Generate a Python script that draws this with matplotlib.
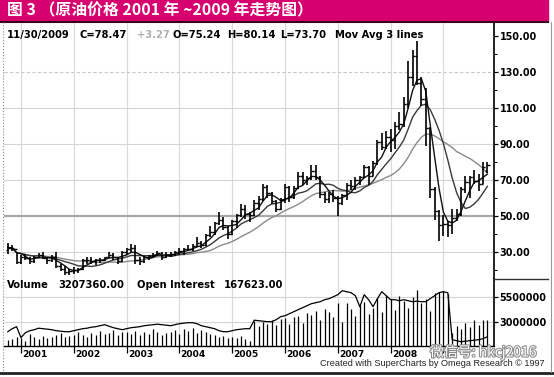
import matplotlib
matplotlib.use('Agg')
import matplotlib.pyplot as plt
import matplotlib.patheffects as pe
from matplotlib.patches import Rectangle
from matplotlib.lines import Line2D
from matplotlib.ticker import FuncFormatter
import numpy as np
import pandas as pd

# monthly Brent bars, Oct 2000 .. Nov 2009 (month index 0 = Oct 2000)
opens = [31.0, 32.5, 31.8,
         24.5, 27.5, 26.5, 25.0, 27.0, 28.5, 26.5, 25.5, 27.0, 22.5, 20.5, 19.0,
         19.5, 19.8, 20.5, 25.5, 25.5, 25.0, 25.5, 25.5, 27.0, 28.5, 27.0, 25.0,
         30.0, 31.5, 32.5, 25.5, 25.0, 27.0, 28.0, 28.5, 29.5, 27.0, 28.5, 29.0,
         30.0, 30.5, 31.5, 31.5, 33.5, 35.0, 34.0, 39.5, 41.0, 46.0, 48.0, 44.0,
         40.0, 47.0, 50.5, 54.0, 51.0, 50.5, 57.0, 59.5, 66.0, 63.0, 58.5, 54.0,
         59.0, 66.0, 60.5, 65.5, 72.0, 70.0, 71.0, 75.0, 71.5, 62.5, 59.5, 62.0,
         60.0, 57.0, 61.5, 67.5, 66.5, 70.0, 71.5, 77.0, 72.5, 79.5, 91.0, 88.5,
         94.0, 92.0, 100.0, 101.0, 112.0, 127.0, 139.0, 124.0, 115.0, 99.0, 65.0, 53.0,
         45.0, 45.5, 45.0, 49.0, 51.0, 65.0, 69.0, 71.5, 69.5, 68.0, 75.24]
highs = [34.8, 34.0, 30.0,
         28.5, 29.0, 27.5, 28.0, 29.5, 30.0, 27.0, 28.5, 30.0, 23.5, 22.0, 20.5,
         21.5, 21.0, 26.0, 27.5, 27.0, 26.0, 26.5, 27.5, 30.0, 29.5, 27.5, 30.5,
         32.5, 34.5, 34.0, 27.0, 28.0, 28.5, 29.5, 30.5, 30.0, 30.0, 30.0, 30.5,
         32.5, 32.0, 34.0, 34.5, 38.5, 36.0, 40.0, 44.5, 46.5, 52.0, 49.5, 44.5,
         48.0, 51.0, 56.5, 56.0, 52.0, 59.0, 61.0, 68.0, 67.5, 63.5, 59.0, 60.0,
         68.0, 66.5, 66.5, 74.5, 74.5, 72.0, 78.5, 78.5, 72.0, 63.5, 63.5, 64.5,
         61.0, 62.5, 68.5, 70.0, 71.5, 72.0, 78.5, 78.0, 80.5, 92.0, 96.0, 97.0,
         98.5, 102.0, 108.0, 116.0, 136.0, 142.0, 147.5, 127.0, 121.0, 99.5, 66.0, 53.5,
         50.5, 47.0, 54.0, 54.0, 66.0, 72.0, 72.0, 75.5, 73.5, 80.0, 80.14]
lows = [29.0, 30.5, 23.5,
        23.5, 25.5, 23.5, 24.0, 26.5, 26.0, 23.5, 24.5, 21.0, 19.5, 17.5, 17.0,
        17.8, 18.5, 20.0, 23.5, 23.5, 23.0, 24.0, 25.0, 26.5, 25.5, 23.5, 24.5,
        28.5, 30.0, 23.5, 23.0, 24.0, 25.5, 27.0, 28.0, 25.5, 26.5, 27.5, 28.0,
        28.5, 28.5, 30.5, 30.5, 33.0, 32.0, 33.5, 38.5, 39.5, 45.0, 42.0, 37.5,
        39.5, 43.5, 49.5, 48.5, 46.5, 50.0, 53.5, 58.5, 60.0, 56.5, 52.5, 53.5,
        57.5, 58.0, 59.5, 65.0, 67.0, 67.5, 70.0, 70.0, 60.0, 57.5, 57.5, 58.0,
        50.0, 56.0, 59.0, 64.5, 64.5, 67.5, 71.0, 67.0, 72.0, 78.5, 86.5, 87.5,
        85.5, 87.5, 98.0, 99.5, 110.0, 122.0, 123.0, 111.0, 89.0, 60.0, 48.0, 36.0,
        39.0, 38.5, 40.0, 47.0, 50.0, 63.0, 60.0, 68.0, 64.0, 68.0, 73.70]
closes = [32.5, 32.0, 24.5,
          27.5, 26.5, 25.0, 27.0, 28.5, 26.5, 25.5, 27.0, 22.5, 20.5, 19.0, 19.5,
          19.8, 20.5, 25.5, 25.5, 25.0, 25.5, 25.5, 27.0, 28.5, 27.0, 25.0, 30.0,
          31.5, 32.5, 25.5, 25.0, 27.0, 28.0, 28.5, 29.5, 27.0, 28.5, 29.0, 30.0,
          30.5, 31.5, 31.5, 33.5, 35.0, 34.0, 39.5, 41.0, 46.0, 48.0, 44.0, 40.0,
          47.0, 50.5, 54.0, 51.0, 50.5, 57.0, 59.5, 66.0, 63.0, 58.5, 54.0, 59.0,
          66.0, 60.5, 65.5, 72.0, 70.0, 71.0, 75.0, 71.5, 62.5, 59.5, 62.0, 60.0,
          57.0, 61.5, 67.5, 66.5, 70.0, 71.5, 77.0, 72.5, 79.5, 91.0, 88.5, 94.0,
          92.0, 100.0, 101.0, 112.0, 127.0, 139.0, 124.0, 115.0, 99.0, 65.0, 53.0, 45.0,
          45.5, 45.0, 49.0, 51.0, 65.0, 69.0, 71.5, 69.5, 68.0, 77.0, 78.47]

# volume and open interest, millions
volume = [1.2, 1.3, 1.5,
          1.4, 1.1, 1.8, 1.5, 1.3, 1.6, 1.4, 1.5, 1.7, 1.9, 1.5, 1.6,
          1.7, 2.0, 1.7, 1.5, 1.9, 1.7, 2.1, 1.8, 1.9, 2.2, 1.7, 2.0,
          2.0, 1.8, 2.1, 1.7, 2.0, 1.8, 2.3, 2.0, 1.7, 1.9, 2.0, 2.2,
          1.8, 2.3, 2.1, 2.4, 1.9, 2.2, 2.0, 1.8, 1.7, 1.5, 1.6, 1.4,
          1.5, 1.4, 1.6, 1.3, 1.1, 3.1, 2.6, 3.0, 2.8, 3.2, 2.7, 3.3,
          3.4, 2.8, 3.5, 3.6, 2.9, 3.9, 3.7, 4.1, 3.2, 4.3, 4.0, 3.5,
          4.9, 3.0, 4.9, 4.3, 3.6, 4.7, 5.0, 3.8, 4.4, 5.4, 4.0, 5.7,
          5.3, 4.2, 5.6, 5.1, 4.4, 5.5, 6.2, 4.9, 5.3, 4.1, 5.9, 6.0,
          6.1, 5.8, 1.9, 2.6, 2.3, 2.9, 2.5, 3.2, 2.7, 3.2, 3.2]
open_interest = [2.0, 2.3, 2.5,
                 1.4, 1.9, 2.1, 2.2, 2.35, 2.3, 2.25, 2.2, 2.1, 2.05, 2.0, 2.0,
                 2.1, 2.2, 2.3, 2.35, 2.45, 2.5, 2.6, 2.7, 2.55, 2.4, 2.3, 2.2,
                 2.3, 2.4, 2.45, 2.5, 2.6, 2.65, 2.7, 2.75, 2.7, 2.65, 2.6, 2.7,
                 2.8, 2.85, 2.9, 2.9, 2.8, 2.6, 2.5, 2.4, 2.3, 2.1, 2.0, 2.0,
                 2.1, 2.2, 2.25, 2.3, 2.3, 3.15, 3.1, 3.05, 3.0, 3.0, 3.2, 3.5,
                 3.6, 3.8, 4.0, 4.2, 4.4, 4.6, 4.8, 4.9, 5.0, 5.2, 5.3, 5.5,
                 5.7, 6.1, 6.0, 5.9, 5.6, 4.5, 5.7, 5.2, 4.5, 5.3, 6.0, 5.6,
                 5.2, 5.2, 5.1, 5.2, 5.1, 5.0, 5.05, 5.0, 5.0, 5.3, 5.6, 5.9,
                 6.0, 5.9, 1.2, 1.1, 1.0, 1.05, 1.1, 1.15, 1.2, 1.3, 1.5]

year_labels = ['2001', '2002', '2003', '2004', '2005', '2006', '2007', '2008']
year_months = [3, 15, 27, 39, 51, 63, 75, 87, 99]   # January of 2001..2009
price_ticks = [30, 50, 70, 90, 110, 130, 150]
vol_ticks = [3.0, 5.5]

W, H = 554, 377
def fx(x):
    return x / W
def fy(y):
    return 1 - y / H

BOLD = 'DejaVu Sans'
fig = plt.figure(figsize=(5.54, 3.77), dpi=100)
fig.patch.set_facecolor('white')

# title bar
fig.add_artist(Rectangle((0, fy(21)), fx(548), 21 / H, transform=fig.transFigure,
                         color='#d6006e', zorder=0))
fig.add_artist(Line2D([0, fx(548)], [fy(21.5)] * 2, color='#3a0020', lw=1.5))
fig.text(fx(7), fy(10.5), '图 3 （原油价格 2001 年 ~2009 年走势图）', color='white',
         fontsize=11.4, fontweight='bold', family=['Noto Sans CJK SC', 'DejaVu Sans'],
         va='center', ha='left')

m = np.arange(len(closes))
xlim = (-0.86, 110.5)

# ---- price panel
ax = fig.add_axes([fx(4), fy(279), fx(494) - fx(4), (279 - 22) / H])
ax.set_xlim(*xlim)
ax.set_ylim(15, 157.8)
for p in year_months:
    ax.axvline(p, color='#dadada', lw=0.8, zorder=0)
for v in [30, 70, 90, 110]:
    ax.axhline(v, color='#d4d4d4', lw=0.8, zorder=0)
ax.axhline(130, color='#c8c8c8', lw=0.8, ls=(0, (3, 2)), zorder=0)
ax.axhline(50, color='#a8a8a8', lw=1.6, zorder=0)

ax.vlines(m, lows, highs, color='k', lw=1.2, zorder=3)
ax.hlines(opens, m - 0.5, m, color='k', lw=1.0, zorder=3)
ax.hlines(closes, m, m + 0.5, color='k', lw=1.0, zorder=3)

cs = pd.Series(closes)
ax.plot(m, cs.rolling(18, min_periods=1).mean(), color='#8a8a8a', lw=1.0, zorder=2)
ax.plot(m, cs.rolling(9, min_periods=1).mean(), color='#3a3a3a', lw=1.0, zorder=2)
ax.plot(m, cs.rolling(4, min_periods=1).mean(), color='#111111', lw=1.0, zorder=2)

ax.yaxis.tick_right()
ax.set_yticks(price_ticks)
ax.set_yticklabels([f'{v:.2f}' for v in price_ticks])
ax.set_yticks([v for v in range(20, 160, 10) if v not in price_ticks], minor=True)
ax.tick_params(axis='y', which='major', direction='out', length=3, width=0.9, pad=1,
               labelsize=6.9)
ax.tick_params(axis='y', which='minor', direction='out', length=2, width=0.7)
for lab in ax.get_yticklabels():
    lab.set_fontweight('bold')
    lab.set_family(BOLD)
ax.set_xticks([])
for s in ['left', 'top', 'bottom']:
    ax.spines[s].set_visible(False)
ax.spines['right'].set_linewidth(1.2)

# ---- volume panel
axv = fig.add_axes([fx(4), fy(346), fx(494) - fx(4), (346 - 279) / H])
axv.set_xlim(*xlim)
axv.set_ylim(0.57, 7.27)
for p in year_months:
    axv.axvline(p, color='#dadada', lw=0.8, zorder=0)
for v in vol_ticks:
    axv.axhline(v, color='#d4d4d4', lw=0.8, zorder=0)
axv.vlines(m, 0.57, volume, color='k', lw=0.9, zorder=2)
axv.plot(m, open_interest, color='k', lw=0.9, zorder=3)

axv.yaxis.tick_right()
axv.set_yticks(vol_ticks)
axv.yaxis.set_major_formatter(FuncFormatter(lambda v, pos: f'{v * 1e6:.0f}'))
axv.tick_params(axis='y', direction='out', length=3, width=0.9, pad=1, labelsize=6.9)
for lab in axv.get_yticklabels():
    lab.set_fontweight('bold')
    lab.set_family(BOLD)
axv.set_xticks(year_months)
axv.tick_params(axis='x', direction='out', length=5, width=0.9, labelbottom=False)
for p, lab in zip(year_months, year_labels):
    axv.text(p + 0.3, -0.12, lab, transform=axv.get_xaxis_transform(), ha='left',
             va='center', fontsize=6.6, fontweight='bold', family=BOLD)
for s in ['left', 'top']:
    axv.spines[s].set_visible(False)
axv.spines['right'].set_linewidth(1.2)
axv.spines['bottom'].set_linewidth(1.0)

# ---- header texts
hdr = [(7, '11/30/2009', 'k'), (80, 'C=78.47', 'k'), (137, '+3.27', '#b0b0b0'),
       (172, 'O=75.24', 'k'), (227, 'H=80.14', 'k'), (280, 'L=73.70', 'k'),
       (335, 'Mov Avg 3 lines', 'k')]
for x, t, c in hdr:
    fig.text(fx(x), fy(35), t, color=c, fontsize=7.2, fontweight='bold', family=BOLD,
             va='center', ha='left')
vol_hdr = [(7, 'Volume'), (58, '3207360.00'), (137, 'Open Interest'), (224, '167623.00')]
for x, t in vol_hdr:
    fig.text(fx(x), fy(285), t, color='k', fontsize=7.2, fontweight='bold', family=BOLD,
             va='center', ha='left')

fig.text(fx(545), fy(364), 'Created with SuperCharts by Omega Research \u00a9 1997',
         fontsize=6.6, family='Liberation Sans', ha='right', va='center', color='#222')

fig.text(fx(430), fy(352), '微信号: hkcj2016', fontsize=10, color='white',
         family=['Noto Sans CJK SC', 'DejaVu Sans'], ha='left', va='center',
         path_effects=[pe.withStroke(linewidth=1.5, foreground='#8a8a8a')])

# frame lines
fig.add_artist(Line2D([fx(494), fx(548)], [fy(279)] * 2, color='#333333', lw=1.0))
fig.add_artist(Line2D([0, 1], [fy(373)] * 2, color='#222222', lw=2.0))
fig.add_artist(Line2D([fx(2.5)] * 2, [fy(22), fy(372)], color='#888888', lw=0.8, ls=':'))
fig.add_artist(Line2D([fx(551)] * 2, [fy(22), fy(372)], color='#999999', lw=0.8))

fig.savefig('out.png', dpi=100)
